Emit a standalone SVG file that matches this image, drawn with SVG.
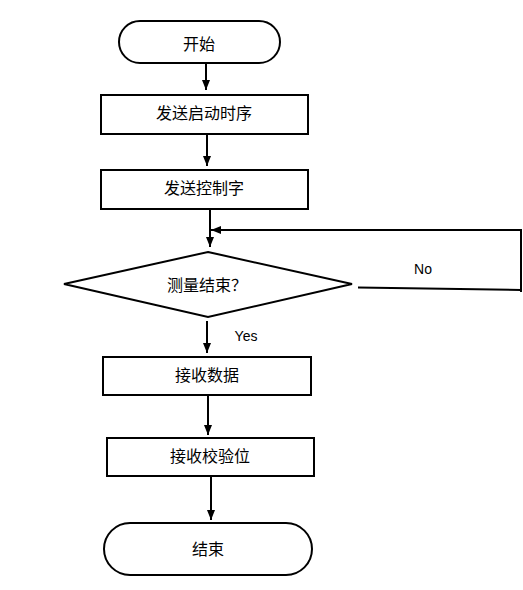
<svg xmlns="http://www.w3.org/2000/svg" width="523" height="590" viewBox="0 0 523 590">
<style>
.shape{fill:#fff;stroke:#000;stroke-width:2}
.line{fill:none;stroke:#000;stroke-width:2}
.t{font-family:"Noto Sans CJK SC","Noto Sans",sans-serif;font-size:16px;fill:#000;text-anchor:middle;dominant-baseline:central}
.lbl{font-family:"Liberation Sans",Arial,sans-serif;font-size:14px;fill:#000;text-anchor:middle;dominant-baseline:central}
</style>
<defs>
<marker id="ah" viewBox="0 0 10 10" refX="10" refY="5" markerWidth="10" markerHeight="10" markerUnits="userSpaceOnUse" orient="auto">
<path d="M0,1 L10,5 L0,9 Z" fill="#000"/>
</marker>
</defs>
<rect width="523" height="590" fill="#fff"/>
<g id="connectors">
<line class="line" x1="206" y1="63" x2="206" y2="90" marker-end="url(#ah)"/>
<line class="line" x1="207" y1="134" x2="207" y2="166" marker-end="url(#ah)"/>
<line class="line" x1="210" y1="209" x2="210" y2="247" marker-end="url(#ah)"/>
<polyline class="line" points="358,287.5 521,290"/>
<polyline class="line" points="521,292 521,230 211,230" marker-end="url(#ah)"/>
<line class="line" x1="207" y1="321" x2="207" y2="353" marker-end="url(#ah)"/>
<line class="line" x1="208" y1="395" x2="208" y2="435" marker-end="url(#ah)"/>
<line class="line" x1="211" y1="476" x2="211" y2="520" marker-end="url(#ah)"/>
<text class="lbl" x="423" y="269">No</text>
<text class="lbl" x="246" y="336">Yes</text>
</g>
<g id="start">
<rect class="shape" x="119" y="21" width="161" height="42" rx="21" ry="21"/>
<text class="t" x="199" y="43">开始</text>
</g>
<g id="send-timing">
<rect class="shape" x="101" y="95" width="207" height="39"/>
<text class="t" x="204" y="112">发送启动时序</text>
</g>
<g id="send-control">
<rect class="shape" x="101" y="170" width="207" height="39"/>
<text class="t" x="204" y="187">发送控制字</text>
</g>
<g id="decision">
<polygon class="shape" points="208,252 352,284 208,317 64,284"/>
<text class="t" x="207" y="284">测量结束？</text>
</g>
<g id="recv-data">
<rect class="shape" x="103" y="357" width="208" height="38"/>
<text class="t" x="207" y="374">接收数据</text>
</g>
<g id="recv-check">
<rect class="shape" x="107" y="438" width="207" height="38"/>
<text class="t" x="210" y="455">接收校验位</text>
</g>
<g id="end">
<rect class="shape" x="104" y="523" width="208" height="52" rx="26" ry="26"/>
<text class="t" x="208" y="548">结束</text>
</g>
</svg>
